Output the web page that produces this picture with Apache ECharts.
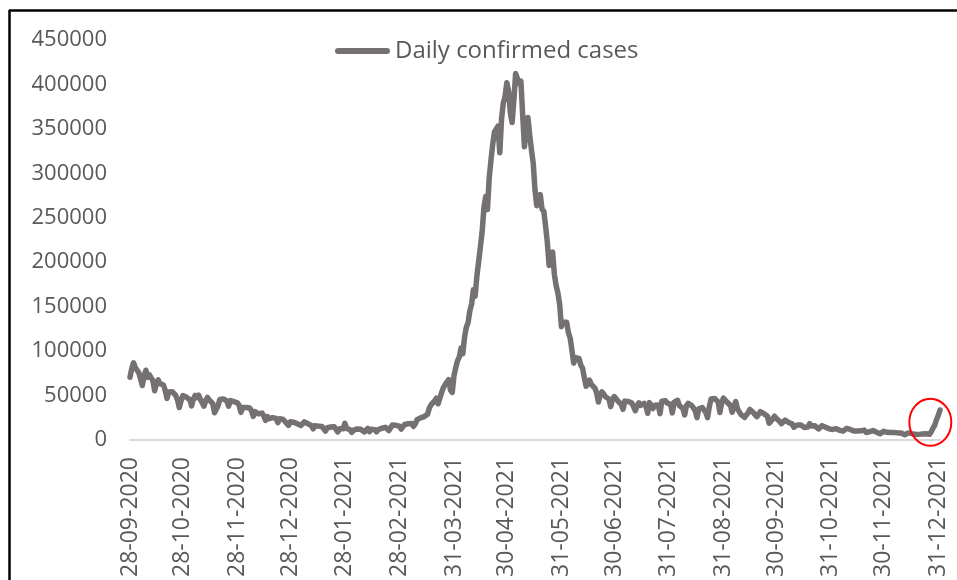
<!DOCTYPE html>
<html>
<head>
<meta charset="utf-8">
<script src="https://cdn.jsdelivr.net/npm/echarts@6/dist/echarts.min.js"></script>
<style>
html,body{margin:0;padding:0;background:#fff;}
#chart{width:957px;height:580px;}
</style>
</head>
<body>
<div id="chart"></div>
<script>
// Daily confirmed cases, first date 28-09-2020
var startDate = [2020, 9, 28];
var casesSep2020 = [70589, 80472, 86821];
var casesOct2020 = [81484, 79476, 75829, 74442, 61267, 72049, 78524, 70496, 73272, 74383, 66732, 55342, 63509, 67708, 63371, 62212, 61871, 55722, 46790, 54044, 55839, 54366, 53370, 50129, 45148, 36470, 43893, 49881, 48648, 48268, 46963];
var casesNov2020 = [45231, 38310, 46253, 50210, 47638, 50357, 45674, 45903, 38073, 44281, 47905, 44878, 44684, 41100, 30548, 29164, 38617, 45576, 45882, 46232, 45209, 44059, 37975, 44376, 44489, 43082, 41322, 41810, 38772, 31118];
var casesDec2020 = [36604, 35551, 36595, 36652, 36011, 32981, 26567, 32080, 31521, 29398, 30006, 30254, 27071, 22065, 26382, 24010, 22890, 25153, 26624, 24337, 19556, 23950, 24712, 23068, 22273, 18732, 16432, 20550, 21822, 20035, 19079];
var casesJan2021 = [18177, 16505, 16375, 18088, 20346, 18139, 18222, 18645, 16311, 12584, 15968, 16946, 15590, 15158, 15144, 13788, 10064, 13823, 15223, 14545, 14256, 14849, 13203, 9102, 12689, 11666, 12537, 18855, 13083, 13052, 11427];
var casesFeb2021 = [8635, 11039, 12899, 12408, 11713, 12059, 11831, 9110, 11067, 12923, 9309, 12143, 12194, 11649, 9121, 11610, 12881, 13193, 13993, 14264, 14199, 10584, 13742, 16738, 16577, 16488, 16752, 15510];
var casesMar2021 = [12286, 14989, 17407, 16838, 18327, 18711, 18599, 15388, 17921, 22854, 23285, 24882, 25320, 26291, 24492, 28903, 35871, 39726, 40953, 43846, 46951, 40715, 47262, 53476, 59118, 62258, 62714, 68020, 56211, 53480, 72330];
var casesApr2021 = [81466, 89129, 93249, 103558, 96982, 115736, 126789, 131968, 145384, 152879, 168912, 161736, 184372, 200739, 217353, 234692, 261500, 273810, 259170, 295041, 314835, 332730, 346786, 349691, 352991, 323144, 360960, 379257, 386452, 401993];
var casesMay2021 = [392488, 368147, 357229, 382315, 412262, 414188, 401078, 403738, 366161, 329942, 348421, 362727, 343144, 326098, 311170, 281386, 263533, 267334, 276110, 259551, 257299, 240842, 222315, 196427, 208921, 211298, 186364, 173790, 165553, 152734, 127510];
var casesJun2021 = [132788, 134154, 132364, 120529, 114460, 100636, 86498, 92596, 94052, 91702, 84332, 80834, 70421, 60471, 62224, 67208, 62480, 60753, 58419, 53256, 42640, 50848, 54069, 51667, 48698, 50040, 46148, 37566, 45951, 48786];
var casesJul2021 = [46617, 44111, 43071, 39796, 34703, 43733, 45892, 43393, 42766, 41506, 37154, 32906, 38792, 41806, 38949, 38079, 41157, 38164, 30093, 42015, 41383, 35342, 39097, 39742, 39361, 29689, 43654, 43509, 44230, 41649, 41831];
var casesAug2021 = [40134, 30549, 42625, 42982, 44643, 38628, 39070, 35499, 28204, 38353, 41195, 40120, 38667, 36083, 32937, 25166, 35178, 36401, 36571, 34457, 30948, 25072, 37593, 46164, 44658, 46759, 45083, 42909, 30941, 41965, 47092];
var casesSep2021 = [45352, 42618, 42766, 38948, 31222, 37875, 43263, 34973, 33376, 28591, 27254, 25404, 27176, 30570, 34403, 35662, 30773, 30256, 26115, 26964, 31923, 31382, 29616, 28326, 26727, 18795, 18870, 23529, 26727, 24354];
var casesOct2021 = [22842, 20799, 18346, 18833, 22431, 21257, 19740, 18166, 18132, 14313, 15823, 16862, 18987, 16862, 15981, 14146, 13596, 14623, 18454, 15786, 16326, 15906, 14306, 12428, 13451, 16156, 14348, 14313, 12830, 12514, 10423];
var casesNov2021 = [11903, 12885, 12729, 10929, 10853, 11451, 10126, 11466, 13091, 12516, 11850, 11271, 10229, 8865, 10197, 11919, 10302, 10488, 11106, 8488, 7579, 9283, 9119, 10549, 8318, 8774, 8309, 6990, 8954, 9765];
var casesDec2021 = [9216, 8603, 8895, 8306, 6822, 8439, 9419, 7992, 8503, 7774, 7350, 5784, 6984, 7974, 7447, 7145, 7081, 6563, 5326, 6317, 7495, 6650, 7189, 6987, 6531, 6358, 9195, 13154, 16764, 22775, 27553];
var casesJan2022 = [33750];

var xTickLabels = ['28-09-2020','28-10-2020','28-11-2020','28-12-2020','28-01-2021','28-02-2021','31-03-2021','30-04-2021','31-05-2021','30-06-2021','31-07-2021','31-08-2021','30-09-2021','31-10-2021','30-11-2021','31-12-2021'];
var yTicks = {min: 0, max: 450000, interval: 50000};
var seriesName = 'Daily confirmed cases';
// highlighted surge: ellipse spans these data indices (counted back from the last point) around this value
var highlightSpan = [6, 5];
var highlightValue = 20000;

var cases = [].concat(casesSep2020, casesOct2020, casesNov2020, casesDec2020, casesJan2021, casesFeb2021, casesMar2021, casesApr2021, casesMay2021, casesJun2021, casesJul2021, casesAug2021, casesSep2021, casesOct2021, casesNov2021, casesDec2021, casesJan2022);

function pad(n){ return (n < 10 ? '0' : '') + n; }
var dates = [];
var d = new Date(Date.UTC(startDate[0], startDate[1]-1, startDate[2]));
for (var i = 0; i < cases.length; i++) {
  dates.push(pad(d.getUTCDate()) + '-' + pad(d.getUTCMonth()+1) + '-' + d.getUTCFullYear());
  d.setUTCDate(d.getUTCDate() + 1);
}
var tickSet = {};
xTickLabels.forEach(function(t){ tickSet[t] = true; });

var FONT = '"Open Sans", sans-serif';
var TXT = '#595959';
var LINE = '#767171';

var chart = echarts.init(document.getElementById('chart'), null, {renderer: 'canvas'});
var frame = [
  {type: 'line', shape: {x1: 9.5, y1: 10, x2: 9.5, y2: 580}, style: {stroke: '#000', lineWidth: 2.5}},
  {type: 'line', shape: {x1: 9, y1: 10.5, x2: 957, y2: 10.5}, style: {stroke: '#000', lineWidth: 2.5}}
];
var option = {
  animation: false,
  backgroundColor: '#ffffff',
  grid: {left: 130, right: 17, top: 40, bottom: 140, containLabel: false},
  legend: {
    left: 330, top: 34,
    itemWidth: 55, itemHeight: 6,
    icon: 'path://M3,0 L52,0 A3,3 0 0 1 52,6 L3,6 A3,3 0 0 1 3,0 Z',
    textStyle: {fontFamily: FONT, fontSize: 24, color: TXT},
    data: [{name: seriesName, itemStyle: {color: LINE}}]
  },
  xAxis: {
    type: 'category',
    boundaryGap: false,
    data: dates,
    axisLine: {show: true, lineStyle: {color: '#d9d9d9', width: 2}},
    axisTick: {show: false},
    splitLine: {show: false},
    axisLabel: {
      rotate: 90,
      margin: 17,
      color: TXT,
      fontFamily: FONT,
      fontSize: 23,
      interval: function(idx, val){ return !!tickSet[val]; }
    }
  },
  yAxis: {
    type: 'value',
    min: yTicks.min, max: yTicks.max, interval: yTicks.interval,
    axisLine: {show: false},
    axisTick: {show: false},
    splitLine: {show: false},
    axisLabel: {color: TXT, fontFamily: FONT, fontSize: 22, margin: 23, formatter: function(v){ return String(v); }}
  },
  series: [{
    name: seriesName,
    type: 'line',
    data: cases,
    showSymbol: false,
    symbol: 'none',
    lineStyle: {color: LINE, width: 5.5, cap: 'round', join: 'round'},
    itemStyle: {color: LINE}
  }],
  graphic: frame
};
chart.setOption(option);

// red highlight ellipse around the latest surge, anchored on the data
var lastIdx = cases.length - 1;
var pA = chart.convertToPixel({xAxisIndex: 0, yAxisIndex: 0}, [lastIdx - highlightSpan[0], highlightValue]);
var pB = chart.convertToPixel({xAxisIndex: 0, yAxisIndex: 0}, [lastIdx - highlightSpan[1], highlightValue]);
var cx = (pA[0] + pB[0]) / 2;
var cy = pA[1];
chart.setOption({
  graphic: frame.concat([
    {type: 'ellipse', shape: {cx: cx, cy: cy, rx: 21, ry: 23.5}, style: {stroke: '#ff0000', lineWidth: 2, fill: null}, z: 100}
  ])
});
</script>
</body>
</html>
